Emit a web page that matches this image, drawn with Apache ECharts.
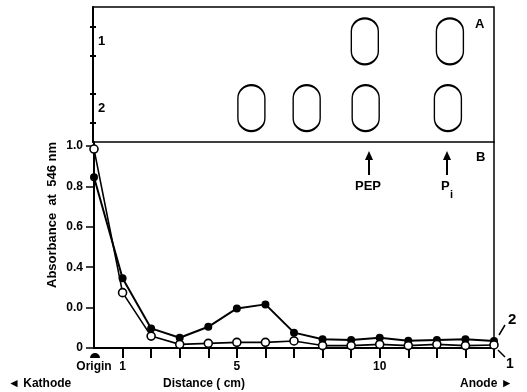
<!DOCTYPE html>
<html><head><meta charset="utf-8">
<script src="https://cdn.jsdelivr.net/npm/echarts@6/dist/echarts.min.js"></script>
<style>html,body{margin:0;padding:0;background:#fff}#c{width:527px;height:392px}</style>
</head><body><div id="c"></div>
<script>
// Distance (cm) positions of fractions
const distance = [0,1,2,3,4,5,6,7,8,9,10,11,12,13,14];
// Curve 2 (filled circles)
const curve2 = [0.845,0.345,0.097,0.051,0.105,0.196,0.216,0.076,0.043,0.040,0.051,0.036,0.040,0.043,0.035];
// Curve 1 (open circles)
const curve1 = [0.985,0.274,0.059,0.018,0.023,0.028,0.028,0.035,0.012,0.012,0.018,0.012,0.018,0.012,0.015];
// Spots in panel A: [distance, lane]
const spotsLane1 = [[9.49,1],[12.46,1]];
const spotsLane2 = [[5.53,2],[7.46,2],[9.52,2],[12.39,2]];
// tick labels
const yTickValues = [0,0.2,0.4,0.6,0.8,1.0];
const yTickLabels = ['0','0.0','0.4','0.6','0.8','1.0'];
const xLabelValues = [0,1,5,10];
const xLabelTexts = {0:'Origin',1:'1',5:'5',10:'10'};
const xTickValues = [1,2,3,4,5,6,7,8,9,10,11,12,13,14];
const laneTicks = [0.786,1.213,1.789,2.215];

const F = 'Liberation Sans';
const chart = echarts.init(document.getElementById('c'));
const spotPath = 'path://M0,13 A13.5,13 0 0 1 27,13 L27,33 A13.5,13 0 0 1 0,33 Z';
function T(text,x,y,size,extra){return Object.assign({type:'text',x:x,y:y,style:{text:text,fontFamily:F,fontWeight:'bold',fontSize:size,fill:'#000'}},extra||{});}
chart.setOption({
  animation:false,
  grid:[
    {left:94,right:33,top:142,bottom:44},
    {left:93,right:33,top:7,bottom:250,show:true,borderColor:'#000',borderWidth:1.5}
  ],
  xAxis:[
    {gridIndex:0,type:'value',min:0,max:14,
     axisLine:{lineStyle:{color:'#000',width:2}},
     axisTick:{show:true,customValues:xTickValues,length:10,lineStyle:{color:'#000',width:2}},
     axisLabel:{customValues:xLabelValues,formatter:v=>xLabelTexts[v],color:'#000',fontFamily:F,fontWeight:'bold',fontSize:12,margin:13},
     splitLine:{show:false}},
    {gridIndex:1,type:'value',min:0,max:14,show:false}
  ],
  yAxis:[
    {gridIndex:0,type:'value',min:0,max:1.02,
     axisLine:{show:true,lineStyle:{color:'#000',width:2}},
     axisTick:{show:true,customValues:yTickValues,length:8,lineStyle:{color:'#000',width:1.5}},
     axisLabel:{customValues:yTickValues,formatter:v=>yTickLabels[yTickValues.indexOf(Math.round(v*10)/10)],color:'#000',fontFamily:F,fontWeight:'bold',fontSize:12,margin:11},
     splitLine:{show:false}},
    {gridIndex:0,type:'value',min:0,max:1.02,position:'right',
     axisLine:{show:true,lineStyle:{color:'#000',width:1.5}},axisTick:{show:false},axisLabel:{show:false},splitLine:{show:false}},
    {gridIndex:1,type:'value',min:0.486,max:2.507,inverse:true,position:'left',
     axisLine:{show:true,lineStyle:{color:'#000',width:2}},
     axisTick:{show:true,customValues:laneTicks,length:3,lineStyle:{color:'#000',width:2}},
     axisLabel:{customValues:[1,2],inside:true,formatter:v=>String(v),color:'#000',fontFamily:F,fontWeight:'bold',fontSize:13,margin:5},
     splitLine:{show:false}},
    {gridIndex:1,type:'value',min:0.486,max:2.507,inverse:true,position:'left',
     axisLine:{show:false},
     axisTick:{show:true,inside:true,customValues:laneTicks,length:3,lineStyle:{color:'#000',width:2}},
     axisLabel:{show:false},splitLine:{show:false}}
  ],
  series:[
    {type:'line',xAxisIndex:0,yAxisIndex:0,data:distance.map((d,i)=>[d,curve2[i]]),
     symbol:'circle',symbolSize:8,lineStyle:{color:'#000',width:2},itemStyle:{color:'#000'}},
    {type:'line',xAxisIndex:0,yAxisIndex:0,data:distance.map((d,i)=>[d,curve1[i]]),
     symbol:'circle',symbolSize:8,lineStyle:{color:'#000',width:1.6},itemStyle:{color:'#fff',borderColor:'#000',borderWidth:1.6}},
    {type:'scatter',xAxisIndex:1,yAxisIndex:2,data:spotsLane1.concat(spotsLane2),
     symbol:spotPath,symbolSize:[27,46],symbolKeepAspect:false,
     itemStyle:{color:'#fff',opacity:1,borderColor:'#000',borderWidth:1.8}}
  ],
  graphic:[
    T('Absorbance  at  546 nm',52,215,13,{rotation:Math.PI/2,style:{text:'Absorbance  at  546 nm',fontFamily:F,fontWeight:'bold',fontSize:13,fill:'#000',align:'center',verticalAlign:'middle'}}),
    T('A',475,18,13),
    T('B',476,151,13),
    {type:'line',shape:{x1:369,y1:175,x2:369,y2:157},style:{stroke:'#000',lineWidth:2}},
    {type:'polygon',shape:{points:[[365,160],[373,160],[369,151]]},style:{fill:'#000'}},
    T('PEP',355,180,13),
    {type:'line',shape:{x1:447,y1:175,x2:447,y2:157},style:{stroke:'#000',lineWidth:2}},
    {type:'polygon',shape:{points:[[443,160],[451,160],[447,151]]},style:{fill:'#000'}},
    T('P',441,180,13),
    T('i',450,189,11),
    {type:'line',shape:{x1:499,y1:335,x2:505,y2:325},style:{stroke:'#000',lineWidth:1.5}},
    T('2',508,312,15),
    {type:'line',shape:{x1:498,y1:350,x2:505,y2:357},style:{stroke:'#000',lineWidth:1.5}},
    T('1',506,357,14),
    {type:'sector',shape:{cx:95,cy:358,r0:0,r:5,startAngle:Math.PI,endAngle:2*Math.PI},style:{fill:'#000'}},
    T('◄ Kathode',8,378,12),
    T('Distance ( cm)',163,378,12),
    T('Anode ►',460,378,12)
  ]
});
</script></body></html>
